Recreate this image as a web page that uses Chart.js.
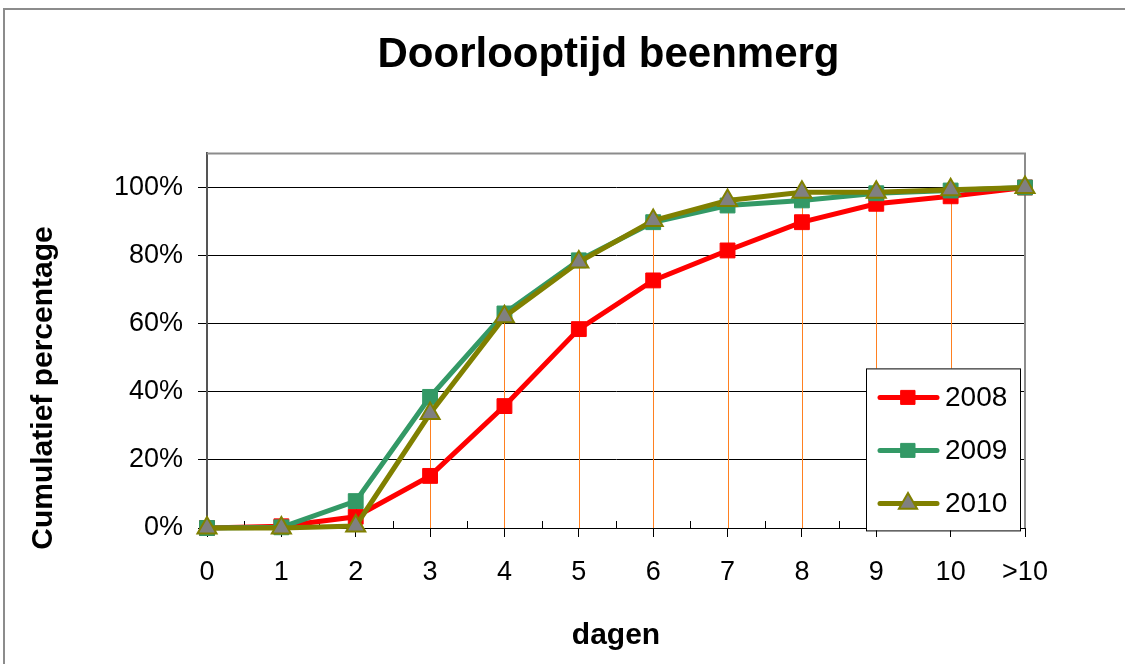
<!DOCTYPE html>
<html>
<head>
<meta charset="utf-8">
<script src="https://cdn.jsdelivr.net/npm/chart.js@4/dist/chart.umd.min.js"></script>
<style>
  html, body { margin: 0; padding: 0; background: #fff; overflow: hidden; }
  #frame { position: absolute; left: 3px; top: 8px; width: 1200px; height: 700px; border: 2px solid #8c8c8c; box-sizing: border-box; }
</style>
</head>
<body>
<div id="frame"></div>
<canvas id="chart" width="1217" height="664" style="position:absolute;left:0;top:0;"></canvas>
<script>
const labels = ['0', '1', '2', '3', '4', '5', '6', '7', '8', '9', '10', '>10'];
const y2008 = [0, 0.005, 0.033, 0.153, 0.358, 0.584, 0.727, 0.815, 0.898, 0.952, 0.974, 1.0];
const y2009 = [0, 0.002, 0.079, 0.385, 0.63, 0.786, 0.898, 0.947, 0.962, 0.983, 0.991, 1.0];
const y2010 = [0, 0, 0.006, 0.336, 0.62, 0.781, 0.903, 0.962, 0.986, 0.986, 0.993, 1.0];
const seriesNames = ['2008', '2009', '2010'];

Chart.defaults.font.family = "'Liberation Sans', Arial, sans-serif";
Chart.defaults.color = '#000';

// draw a legend marker by hand
function marker(ctx, style, x, y, fill, stroke, bw) {
    ctx.save();
    ctx.fillStyle = fill;
    ctx.strokeStyle = stroke;
    ctx.lineWidth = bw;
    ctx.beginPath();
    if (style === 'triangle') {
        const r = 10.5;
        ctx.moveTo(x, y - r);
        ctx.lineTo(x + r * Math.sin(Math.PI / 3), y + r * 0.5);
        ctx.lineTo(x - r * Math.sin(Math.PI / 3), y + r * 0.5);
        ctx.closePath();
    } else {
        const s = 7;
        ctx.rect(x - s, y - s, 2 * s, 2 * s);
    }
    ctx.fill();
    ctx.stroke();
    ctx.restore();
}

const extras = {
    id: 'extras',
    beforeDatasetsDraw(chart) {
        const {ctx, chartArea: a, scales: {x, y}} = chart;
        ctx.save();
        // drop lines from the highest point down to the axis
        ctx.strokeStyle = 'rgb(255,128,32)';
        ctx.lineWidth = 1;
        labels.forEach((l, i) => {
            const top = Math.max(...chart.data.datasets.map(d => d.data[i]));
            const px = Math.round(x.getPixelForValue(i)) + 0.5;
            ctx.beginPath();
            ctx.moveTo(px, y.getPixelForValue(top));
            ctx.lineTo(px, a.bottom);
            ctx.stroke();
        });
        // plot frame top/right
        ctx.strokeStyle = '#8c8c8c';
        ctx.lineWidth = 2;
        ctx.beginPath();
        ctx.moveTo(a.left, a.top);
        ctx.lineTo(a.right, a.top);
        ctx.lineTo(a.right, a.bottom);
        ctx.stroke();
        // small inner ticks between categories
        ctx.strokeStyle = '#000';
        ctx.lineWidth = 1;
        for (let i = 0; i < labels.length - 1; i++) {
            const px = Math.round(x.getPixelForValue(i + 0.5)) + 0.5;
            ctx.beginPath();
            ctx.moveTo(px, a.bottom);
            ctx.lineTo(px, a.bottom - 7);
            ctx.stroke();
        }
        ctx.restore();
    },
    afterDraw(chart) {
        const {ctx, chartArea: a} = chart;
        ctx.save();
        // y axis title
        ctx.font = "bold 30px 'Liberation Sans', Arial, sans-serif";
        ctx.fillStyle = '#000';
        ctx.textAlign = 'center';
        ctx.textBaseline = 'middle';
        ctx.translate(44, 388);
        ctx.rotate(-Math.PI / 2);
        ctx.fillText('Cumulatief percentage', 0, 0);
        ctx.restore();

        // legend box
        ctx.save();
        const bx = a.right - 159, by = a.top + 215, bw = 154, bh = 162;
        ctx.fillStyle = '#fff';
        ctx.fillRect(bx, by, bw, bh);
        ctx.strokeStyle = '#000';
        ctx.lineWidth = 1;
        ctx.strokeRect(bx + 0.5, by + 0.5, bw, bh);
        chart.data.datasets.forEach((d, i) => {
            const ly = by + 29 + i * 53;
            ctx.strokeStyle = d.borderColor;
            ctx.lineWidth = 5;
            ctx.lineCap = 'round';
            ctx.beginPath();
            ctx.moveTo(bx + 14, ly);
            ctx.lineTo(bx + 71, ly);
            ctx.stroke();
            marker(ctx, d.pointStyle, bx + 42, ly, d.pointBackgroundColor, d.pointBorderColor, d.pointBorderWidth);
            ctx.fillStyle = '#000';
            ctx.font = "28px 'Liberation Sans', Arial, sans-serif";
            ctx.textAlign = 'left';
            ctx.textBaseline = 'middle';
            ctx.fillText(d.label, bx + 79, ly + 1);
        });
        ctx.restore();
    }
};

const ctx = document.getElementById('chart').getContext('2d');
const chart = new Chart(ctx, {
    type: 'line',
    data: {
        labels: labels,
        datasets: [
            {
                label: seriesNames[0],
                data: y2008,
                borderColor: '#ff0000',
                borderWidth: 5,
                pointStyle: 'rect',
                pointRadius: 10.5,
                pointBackgroundColor: '#ff0000',
                pointBorderColor: '#ff0000',
                pointBorderWidth: 1,
                tension: 0,
                clip: false,
                order: 2
            },
            {
                label: seriesNames[1],
                data: y2009,
                borderColor: '#339966',
                borderWidth: 5,
                pointStyle: 'rect',
                pointRadius: 10.5,
                pointBackgroundColor: '#339966',
                pointBorderColor: '#339966',
                pointBorderWidth: 1,
                tension: 0,
                clip: false,
                order: 1
            },
            {
                label: seriesNames[2],
                data: y2010,
                borderColor: '#808000',
                borderWidth: 5,
                pointStyle: 'triangle',
                pointRadius: 11,
                pointBackgroundColor: '#808080',
                pointBorderColor: '#808000',
                pointBorderWidth: 2,
                tension: 0,
                clip: false,
                order: 0
            }
        ]
    },
    options: {
        responsive: false,
        animation: false,
        layout: { padding: 0 },
        plugins: {
            legend: { display: false },
            tooltip: { enabled: false },
            title: {
                display: true,
                text: 'Doorlooptijd beenmerg',
                font: { size: 42, weight: 'bold' },
                padding: { top: 30, bottom: 73 }
            }
        },
        scales: {
            x: {
                offset: false,
                grid: { drawOnChartArea: false, drawTicks: true, tickLength: 9, color: '#000' },
                border: { color: '#000', width: 1 },
                ticks: { font: { size: 27 }, padding: 19, maxRotation: 0, autoSkip: false },
                title: {
                    display: true,
                    text: 'dagen',
                    font: { size: 30, weight: 'bold' },
                    padding: { top: 0, bottom: 10 }
                },
                afterFit: s => { s.height = 136; }
            },
            y: {
                min: 0,
                max: 1.1,
                grid: { color: '#000', lineWidth: 1, tickLength: 9 },
                border: { color: '#555', width: 2 },
                ticks: {
                    stepSize: 0.2,
                    font: { size: 27 },
                    padding: 15,
                    callback: v => Math.round(v * 100) + '%'
                },
                afterBuildTicks: s => { s.ticks = s.ticks.filter(t => t.value <= 1.0001); },
                afterFit: s => { s.width = 207; }
            },
            // empty spacer on the right so the plot ends where the original does
            spacer: {
                type: 'linear',
                position: 'right',
                grid: { display: false },
                border: { display: false },
                ticks: { display: false },
                afterFit: s => { s.width = 192; }
            }
        }
    },
    plugins: [extras]
});
</script>
</body>
</html>
